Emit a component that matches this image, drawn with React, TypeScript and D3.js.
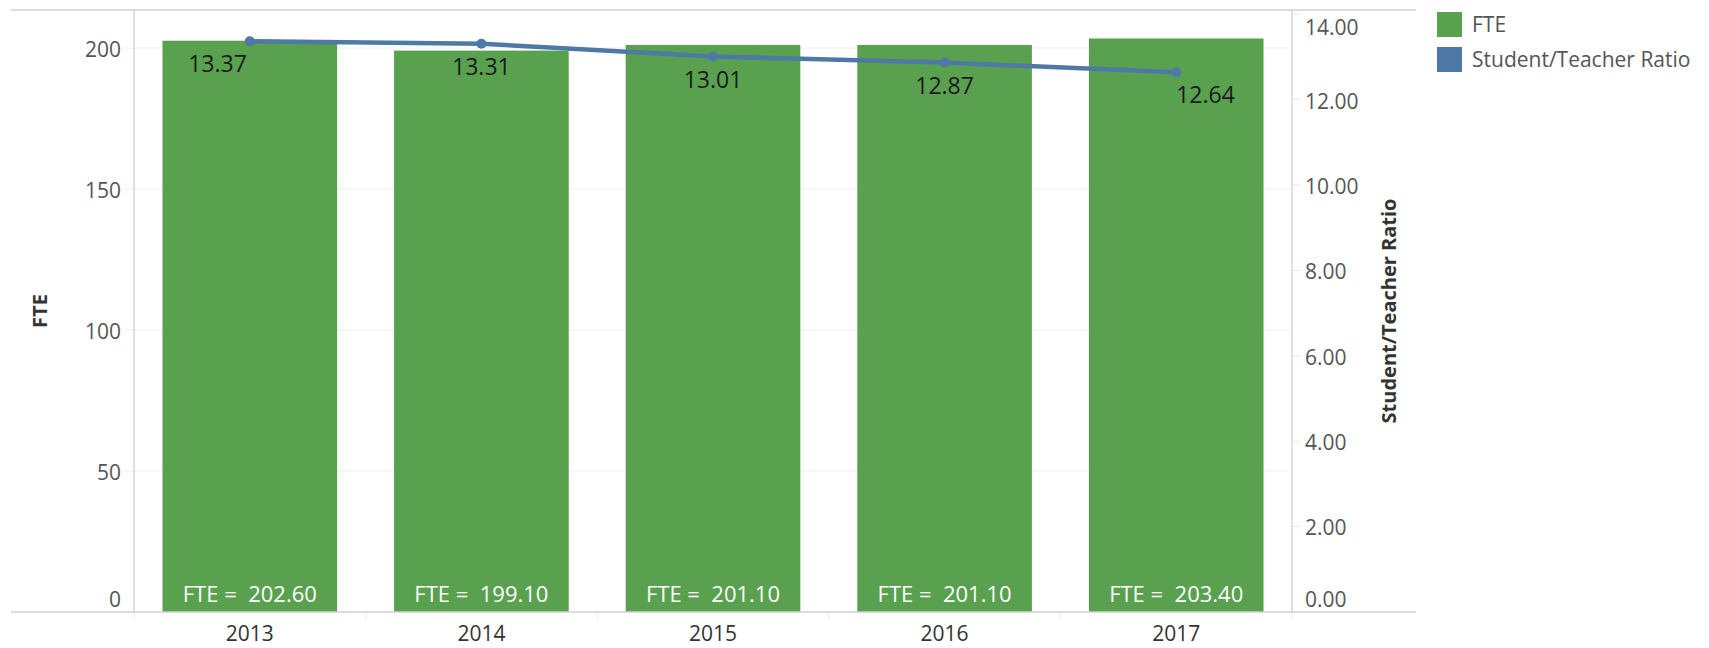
import React, { useEffect, useRef } from 'react';
import * as d3 from 'd3';

// data
const years = ['2013', '2014', '2015', '2016', '2017'];
const fte = [202.6, 199.1, 201.1, 201.1, 203.4];
const ratio = [13.37, 13.31, 13.01, 12.87, 12.64];
const fteTicks = [0, 50, 100, 150, 200];
const ratioTicks = [0, 2, 4, 6, 8, 10, 12, 14];
const legendItems = ['FTE', 'Student/Teacher Ratio'];

const width = 1709;
const height = 648;
const font = '"Open Sans", "Noto Sans", sans-serif';
const green = '#59a14f';
const blue = '#4e79a7';

const App = () => {
    const svgRef = useRef<SVGSVGElement | null>(null);

    useEffect(() => {
        const svg = d3.select(svgRef.current);
        svg.selectAll('*').remove();

        const plot = { left: 134, right: 1292, top: 10, bottom: 612 };

        // scales
        const x = d3.scaleBand()
            .domain(years)
            .range([plot.left, plot.right])
            .paddingInner(0.246)
            .paddingOuter(0.123);
        const yFte = d3.scaleLinear().domain([0, 213.5]).range([plot.bottom, plot.top]);
        const yRatio = d3.scaleLinear().domain([0, 14.1]).range([plot.bottom, plot.top]);
        const clampLabel = (v: number) => Math.max(plot.top + 16, Math.min(plot.bottom - 14, v));

        // gridlines
        svg.append('g')
            .selectAll('line')
            .data(fteTicks.filter(d => d > 0))
            .join('line')
            .attr('x1', plot.left - 10)
            .attr('x2', plot.right)
            .attr('y1', d => yFte(d))
            .attr('y2', d => yFte(d))
            .attr('stroke', '#efefef')
            .attr('stroke-width', 1);

        // right axis tick marks
        svg.append('g')
            .selectAll('line')
            .data(ratioTicks.filter(d => d > 0))
            .join('line')
            .attr('x1', plot.right)
            .attr('x2', plot.right + 8)
            .attr('y1', d => yRatio(d))
            .attr('y2', d => yRatio(d))
            .attr('stroke', '#e6e6e6');

        // bars
        svg.append('g')
            .selectAll('rect')
            .data(years)
            .join('rect')
            .attr('x', d => x(d)!)
            .attr('width', x.bandwidth())
            .attr('y', (d, i) => yFte(fte[i]))
            .attr('height', (d, i) => yFte(0) - yFte(fte[i]))
            .attr('fill', green);

        // band separators below the axis
        const step = x.step();
        svg.append('g')
            .selectAll('line')
            .data(d3.range(years.length + 1))
            .join('line')
            .attr('x1', i => plot.left + i * step)
            .attr('x2', i => plot.left + i * step)
            .attr('y1', plot.bottom)
            .attr('y2', plot.bottom + 8)
            .attr('stroke', '#ececec');

        // frame
        const frame = svg.append('g').attr('stroke', '#d0d0d0').attr('stroke-width', 1.3);
        frame.append('line').attr('x1', 11).attr('x2', 1416).attr('y1', plot.top).attr('y2', plot.top);
        frame.append('line').attr('x1', 11).attr('x2', 1416).attr('y1', plot.bottom).attr('y2', plot.bottom);
        frame.append('line').attr('x1', plot.left).attr('x2', plot.left).attr('y1', plot.top).attr('y2', plot.bottom);
        frame.append('line').attr('x1', plot.right).attr('x2', plot.right).attr('y1', plot.top).attr('y2', plot.bottom);

        // left axis labels
        svg.append('g')
            .selectAll('text')
            .data(fteTicks)
            .join('text')
            .attr('x', plot.left - 13)
            .attr('y', d => clampLabel(yFte(d)) + 1.5)
            .attr('dy', '0.35em')
            .attr('text-anchor', 'end')
            .attr('font-family', font)
            .attr('font-size', 21)
            .attr('fill', '#555')
            .text(d => d);

        // right axis labels
        svg.append('g')
            .selectAll('text')
            .data(ratioTicks)
            .join('text')
            .attr('x', plot.right + 13)
            .attr('y', d => clampLabel(yRatio(d)) + 1.5)
            .attr('dy', '0.35em')
            .attr('font-family', font)
            .attr('font-size', 21)
            .attr('fill', '#555')
            .text(d => d3.format('.2f')(d));

        // axis titles
        svg.append('text')
            .attr('transform', `translate(47,${(plot.top + plot.bottom) / 2}) rotate(-90)`)
            .attr('text-anchor', 'middle')
            .attr('font-family', font)
            .attr('font-weight', 'bold')
            .attr('font-size', 20)
            .attr('fill', '#333')
            .text('FTE');
        svg.append('text')
            .attr('transform', `translate(1396,${(plot.top + plot.bottom) / 2}) rotate(-90)`)
            .attr('text-anchor', 'middle')
            .attr('font-family', font)
            .attr('font-weight', 'bold')
            .attr('font-size', 20)
            .attr('fill', '#333')
            .text('Student/Teacher Ratio');

        // year labels
        svg.append('g')
            .selectAll('text')
            .data(years)
            .join('text')
            .attr('x', d => x(d)! + x.bandwidth() / 2)
            .attr('y', 641)
            .attr('text-anchor', 'middle')
            .attr('font-family', font)
            .attr('font-size', 21)
            .attr('fill', '#333')
            .text(d => d);

        // FTE labels inside bars
        svg.append('g')
            .selectAll('text')
            .data(years)
            .join('text')
            .attr('x', d => x(d)! + x.bandwidth() / 2)
            .attr('y', plot.bottom - 10)
            .attr('text-anchor', 'middle')
            .attr('font-family', font)
            .attr('font-size', 22)
            .attr('fill', '#fff')
            .style('white-space', 'pre')
            .text((d, i) => `FTE =  ${d3.format('.2f')(fte[i])}`);

        // ratio line
        const cx = (i: number) => x(years[i])! + x.bandwidth() / 2;
        const line = d3.line<number>()
            .x((d, i) => cx(i))
            .y(d => yRatio(d));
        svg.append('path')
            .datum(ratio)
            .attr('d', line)
            .attr('fill', 'none')
            .attr('stroke', blue)
            .attr('stroke-width', 4.5);
        svg.append('g')
            .selectAll('circle')
            .data(ratio)
            .join('circle')
            .attr('cx', (d, i) => cx(i))
            .attr('cy', d => yRatio(d))
            .attr('r', 5)
            .attr('fill', blue);

        // ratio labels
        const last = ratio.length - 1;
        svg.append('g')
            .selectAll('text')
            .data(ratio)
            .join('text')
            .attr('x', (d, i) => cx(i) + (i === 0 ? -3 : 0))
            .attr('y', d => yRatio(d) + 31)
            .attr('text-anchor', (d, i) => (i === 0 ? 'end' : i === last ? 'start' : 'middle'))
            .attr('font-family', font)
            .attr('font-size', 23)
            .attr('fill', '#1a1a1a')
            .text(d => d3.format('.2f')(d));

        // legend
        const legend = svg.append('g').attr('transform', 'translate(1437,12)');
        const items = legend.selectAll('g')
            .data(legendItems)
            .join('g')
            .attr('transform', (d, i) => `translate(0,${i * 35})`);
        items.append('rect')
            .attr('width', 25)
            .attr('height', 25)
            .attr('fill', (d, i) => (i === 0 ? green : blue));
        items.append('text')
            .attr('x', 35)
            .attr('y', 13)
            .attr('dy', '0.35em')
            .attr('font-family', font)
            .attr('font-size', 21)
            .attr('fill', '#555')
            .text(d => d);
    }, []);

    return (
        <svg
            ref={svgRef}
            width={width}
            height={height}
            style={{ position: 'absolute', left: 0, top: 0, background: '#fff' }}
        />
    );
};

export default App;
